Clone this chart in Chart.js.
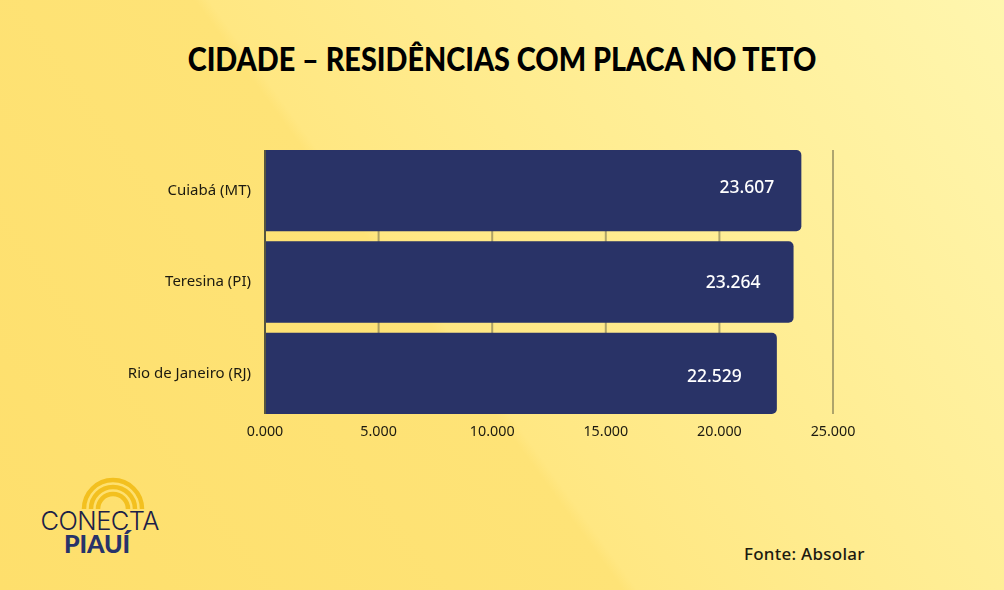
<!DOCTYPE html>
<html lang="pt-BR">
<head>
<meta charset="utf-8">
<title>Cidade - residências com placa no teto</title>
<script src="https://cdn.jsdelivr.net/npm/chart.js@4/dist/chart.umd.min.js"></script>
<style>
html, body { margin: 0; padding: 0; }
#quadro {
    position: relative;
    width: 1004px;
    height: 590px;
    overflow: hidden;
    background: linear-gradient(54deg, #fedf6c 0%, #fee377 43.5%, #ffe782 44.5%, #ffec90 62%, #fff6ae 100%);
}
#titulo {
    position: absolute;
    left: 0;
    top: 39px;
    width: 1004px;
    text-align: center;
    font: 900 32px Lato, sans-serif;
    color: #000;
    margin: 0;
    white-space: nowrap;
    transform: scaleX(0.9);
}
#fonte {
    position: absolute;
    left: 744px;
    top: 542px;
    font: 500 17px "Noto Sans", sans-serif;
    letter-spacing: 0.25px;
    color: #1c1a10;
}
#logo { position: absolute; left: 30px; top: 470px; }
canvas { position: absolute; left: 0; top: 0; }
</style>
</head>
<body>
<div id="quadro">
    <h1 id="titulo">CIDADE – RESIDÊNCIAS COM PLACA NO TETO</h1>
    <svg id="logo" width="140" height="95" viewBox="0 0 140 95">
        <g fill="none" stroke="#f3c01f" stroke-width="4.5">
            <path d="M54 39 a29 29 0 0 1 58 0"/>
            <path d="M61 39 a22 22 0 0 1 44 0"/>
            <path d="M68 39 a15 15 0 0 1 30 0"/>
        </g>
        <text x="70" y="60" text-anchor="middle" font-family="Inter, sans-serif" font-weight="300" font-size="25.5" textLength="119" fill="#1c2148">CONECTA</text>
        <text x="67" y="83" text-anchor="middle" font-family="Lato, sans-serif" font-weight="900" font-size="25" textLength="66" fill="#27336a">PIAUÍ</text>
    </svg>
    <div id="fonte">Fonte: Absolar</div>
    <canvas id="grafico" width="1004" height="590"></canvas>
</div>
<script>
const cidades = ['Cuiabá (MT)', 'Teresina (PI)', 'Rio de Janeiro (RJ)'];
const residencias = [23607, 23264, 22529];
const ticksEixo = [0, 5000, 10000, 15000, 20000, 25000];

// ajuste do rotulo em relacao ao fim e ao centro da barra
const recuoRotulo = [27, 33, 35];
const desvioRotulo = [-3, 1, 4];

function formataMilhar(valor) {
    const mil = Math.floor(valor / 1000);
    const resto = String(valor % 1000).padStart(3, '0');
    return mil + '.' + resto;
}

// as linhas de grade param 5px antes das bordas da area do grafico
function linhaGrade(chart, valor, cor) {
    const ctx = chart.ctx;
    const area = chart.chartArea;
    const x = chart.scales.x.getPixelForValue(valor);
    ctx.save();
    ctx.lineWidth = 2;
    ctx.strokeStyle = cor;
    ctx.beginPath();
    ctx.moveTo(x, area.top + 5);
    ctx.lineTo(x, area.bottom - 5);
    ctx.stroke();
    ctx.restore();
}

const gradeCurta = {
    id: 'gradeCurta',
    beforeDatasetsDraw(chart) {
        ticksEixo.slice(1).forEach(v => linhaGrade(chart, v, 'rgba(120,115,80,0.6)'));
    },
    afterDatasetsDraw(chart) {
        // o eixo vertical fica por cima das barras
        linhaGrade(chart, ticksEixo[0], '#56553f');
    }
};

const rotulosBarras = {
    id: 'rotulosBarras',
    afterDatasetsDraw(chart) {
        const ctx = chart.ctx;
        ctx.save();
        ctx.font = '500 17.5px "Noto Sans", sans-serif';
        ctx.fillStyle = '#ffffff';
        ctx.textAlign = 'right';
        ctx.textBaseline = 'middle';
        chart.getDatasetMeta(0).data.forEach((barra, i) => {
            ctx.fillText(formataMilhar(residencias[i]), barra.x - recuoRotulo[i], barra.y + desvioRotulo[i]);
        });
        ctx.restore();
    }
};

const ctx = document.getElementById('grafico').getContext('2d');
new Chart(ctx, {
    type: 'bar',
    data: {
        labels: cidades,
        datasets: [{
            data: residencias,
            backgroundColor: '#293367',
            categoryPercentage: 1,
            barPercentage: 0.89,
            borderRadius: { topRight: 5, bottomRight: 5, topLeft: 0, bottomLeft: 0 },
            borderSkipped: false
        }]
    },
    options: {
        indexAxis: 'y',
        responsive: false,
        animation: false,
        layout: { padding: { left: 0, right: 171, top: 145, bottom: 140 } },
        plugins: { legend: { display: false }, tooltip: { enabled: false } },
        scales: {
            x: {
                min: 0,
                max: 25000,
                afterBuildTicks(eixo) {
                    eixo.ticks = ticksEixo.map(v => ({ value: v }));
                },
                afterFit(eixo) { eixo.height = 31; },
                ticks: {
                    callback: v => formataMilhar(v),
                    color: '#1c1a10',
                    font: { family: '"Noto Sans", sans-serif', size: 14.3 },
                    maxRotation: 0,
                    padding: 4
                },
                grid: { display: false, drawTicks: false },
                border: { display: false }
            },
            y: {
                afterFit(eixo) { eixo.width = 265; },
                ticks: {
                    color: '#1c1a10',
                    font: { family: '"Noto Sans", sans-serif', size: 15 },
                    padding: 14
                },
                grid: { display: false, drawTicks: false },
                border: { display: false }
            }
        }
    },
    plugins: [gradeCurta, rotulosBarras]
});
</script>
</body>
</html>
